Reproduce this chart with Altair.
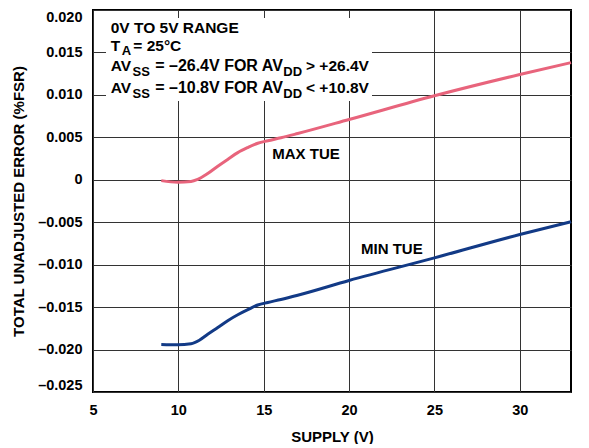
import altair as alt
import pandas as pd

# ---- data ----
supply_max = [9.0, 9.96, 10.74, 11.13, 11.72, 12.31, 12.89, 13.48, 14.07, 14.65, 15.24, 16.01, 16.99, 20.0, 25.0, 30.0, 33.0]
tue_max = [-0.0001, -0.00028, -0.0002, 0.00004, 0.00074, 0.0016, 0.0024, 0.0032, 0.0038, 0.0043, 0.0046, 0.00495, 0.00545, 0.0071, 0.0099, 0.0124, 0.0138]

supply_min = [9.0, 9.96, 10.74, 11.23, 11.72, 12.31, 12.89, 13.48, 14.07, 14.65, 15.24, 16.01, 16.99, 20.0, 25.0, 30.0, 33.0]
tue_min = [-0.0194, -0.01944, -0.01932, -0.0189, -0.0182, -0.0174, -0.0166, -0.0159, -0.0153, -0.01475, -0.01445, -0.0141, -0.0136, -0.01186, -0.0092, -0.00645, -0.00495]

series_names = ["MAX TUE", "MIN TUE"]
series_colors = ["#E8647C", "#123A86"]
label_x = [15.5, 20.7]
label_y = [0.0024, -0.0088]

x_ticks = [5, 10, 15, 20, 25, 30]
y_ticks = [-0.025, -0.02, -0.015, -0.01, -0.005, 0, 0.005, 0.01, 0.015, 0.02]

x_title = "SUPPLY (V)"
y_title = "TOTAL UNADJUSTED ERROR (%FSR)"

FONT = "Liberation Sans"

df = pd.concat([
    pd.DataFrame({"supply": supply_max, "tue": tue_max, "series": series_names[0], "order": range(len(supply_max))}),
    pd.DataFrame({"supply": supply_min, "tue": tue_min, "series": series_names[1], "order": range(len(supply_min))}),
])
labels_df = pd.DataFrame({"supply": label_x, "tue": label_y, "series": series_names})

xscale = alt.Scale(domain=[5, 33], nice=False, zero=False)
yscale = alt.Scale(domain=[-0.025, 0.02], nice=False, zero=False)

lines = alt.Chart(df).mark_line(strokeWidth=3, interpolate="monotone").encode(
    x=alt.X("supply:Q", scale=xscale,
            axis=alt.Axis(values=x_ticks, title=x_title, labelPadding=11, labelFlush=False,
                          titleY=49, titleBaseline="alphabetic")),
    y=alt.Y("tue:Q", scale=yscale,
            axis=alt.Axis(values=y_ticks, title=y_title, labelPadding=11, labelFlush=True,
                          labelExpr="datum.value == 0 ? '0' : (datum.value < 0 ? '\u2013' + format(-datum.value, '.3f') : format(datum.value, '.3f'))",
                          titleX=-75, titleY=191, titleAngle=270, titleAlign="center", titleBaseline="middle")),
    color=alt.Color("series:N", scale=alt.Scale(domain=series_names, range=series_colors), legend=None),
    order="order:Q",
)

labels = alt.Chart(labels_df).mark_text(
    align="left", baseline="alphabetic", font=FONT, fontSize=15, fontWeight="bold", color="black"
).encode(x=alt.X("supply:Q", scale=xscale), y=alt.Y("tue:Q", scale=yscale), text="series:N")

one = pd.DataFrame({"k": [0]})
box = alt.Chart(one).mark_rect(color="white").encode(
    x=alt.value(13), x2=alt.value(279), y=alt.value(8), y2=alt.value(91)
)

# annotation segments: (text, x px, baseline px, font size, align)
note_text = ["0V TO 5V RANGE", "T", "A", "= 25°C",
             "AV", "SS", "= \u201326.4V FOR AV", "DD", "> +26.4V",
             "AV", "SS", "= \u201310.8V FOR AV", "DD", "< +10.8V"]
note_pos = [(17.7, 23.3, 15.5, "left"), (17.7, 41, 15.5, "left"), (28.7, 45, 13, "left"), (40.3, 41, 15.5, "left"),
            (17.7, 61, 15.5, "left"), (39.6, 66, 13, "left"), (189.8, 61, 16, "right"), (190.3, 66, 13, "left"), (213, 61, 15.5, "left"),
            (17.7, 83.3, 15.5, "left"), (39.6, 88.3, 13, "left"), (189.8, 83.3, 16, "right"), (190.3, 88.3, 13, "left"), (213, 83.3, 15.5, "left")]

notes = []
for t, (px, py, fs, al) in zip(note_text, note_pos):
    notes.append(
        alt.Chart(one).mark_text(text=t, align=al, baseline="alphabetic", font=FONT,
                                 fontSize=fs, fontWeight="bold", color="black")
        .encode(x=alt.value(px), y=alt.value(py))
    )

chart = alt.layer(box, lines, labels, *notes).properties(
    width=478, height=382,
    autosize=alt.AutoSizeParams(type="none"),
    padding={"left": 85, "top": 2, "right": 10, "bottom": 52},
).configure_view(
    stroke="black", strokeWidth=2
).configure_axis(
    grid=True, gridColor="#333333", gridWidth=1, domain=False, ticks=False,
    labelFont=FONT, labelFontWeight="bold", labelFontSize=14.5, labelColor="black",
    titleFont=FONT, titleFontWeight="bold", titleFontSize=15, titleColor="black",
)

chart.save("out.html", embed_options={"renderer": "svg", "actions": False})
